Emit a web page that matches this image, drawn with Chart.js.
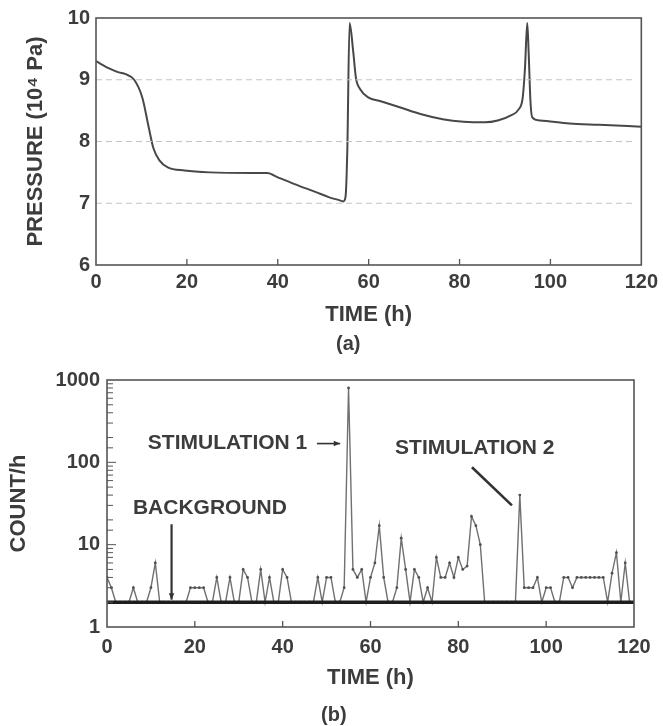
<!DOCTYPE html>
<html>
  <head>
    <meta charset="UTF-8" />
    <title>Pressure and count rate vs time</title>
    <style>
      body { margin: 0; background: #fff; width: 663px; height: 726px; position: relative; overflow: hidden; }
      #boxA { position: absolute; left: 0; top: 0; width: 663px; height: 335px; }
      #boxB { position: absolute; left: 0; top: 340px; width: 663px; height: 386px; }
      .cap { position: absolute; font: bold 20px "Liberation Sans", Arial, sans-serif; color: #3c3c3c; }
    </style>
  </head>
  <body>
    <div id="boxA"><canvas id="chartA"></canvas></div>
    <div id="boxB"><canvas id="chartB"></canvas></div>
    <div class="cap" style="left:336px; top:332px">(a)</div>
    <div class="cap" style="left:321px; top:703px">(b)</div>

    <script src="https://cdn.jsdelivr.net/npm/chart.js"></script>
    <script>
      // (a) pressure, 10^4 Pa
      const pressureTime = [0, 3, 5, 6.5, 8.4, 10.2, 11.6, 12.6, 14, 15.8, 19.5, 25, 34.4, 37.7, 40, 43.7, 48.4, 51.2,
        53.5, 54.4, 54.9, 55.3, 55.8, 56.6, 57.2, 58.1, 60, 62.3, 67, 71.6, 76.3, 80.9, 85.6, 88.4, 91.2, 93,
        93.9, 94.4, 94.9, 95.2, 95.6, 96, 97.7, 104.2, 110.7, 120];
      const pressure = [9.30, 9.18, 9.12, 9.09, 9.0, 8.71, 8.23, 7.9, 7.69, 7.58, 7.53, 7.5, 7.49, 7.49, 7.42, 7.31, 7.18, 7.1,
        7.05, 7.03, 7.1, 7.85, 9.92, 9.46, 9.03, 8.85, 8.71, 8.66, 8.55, 8.44, 8.36, 8.32, 8.31, 8.34, 8.42, 8.52,
        8.71, 9.19, 9.92, 9.46, 8.66, 8.39, 8.34, 8.29, 8.27, 8.24];
      const pressureTicks = [6, 7, 8, 9, 10];

      // (b) counts per hour
      const countTime = [0, 1, 2, 3, 4, 5, 6, 7, 8, 9, 10, 11, 12, 13, 14, 15, 16, 17, 18, 19,
        20, 21, 22, 23, 24, 25, 26, 27, 28, 29, 30, 31, 32, 33, 34, 35, 36, 37, 38, 39,
        40, 41, 42, 43, 44, 45, 46, 47, 48, 49, 50, 51, 52, 53, 54, 55, 56, 57, 58, 59,
        60, 61, 62, 63, 64, 65, 66, 67, 68, 69, 70, 71, 72, 73, 74, 75, 76, 77, 78, 79,
        80, 81, 82, 83, 84, 85, 86, 87, 88, 89, 90, 91, 92, 93, 94, 95, 96, 97, 98, 99,
        100, 101, 102, 103, 104, 105, 106, 107, 108, 109, 110, 111, 112, 113, 114, 115, 116, 117, 118, 119, 120];
      const counts = [4, 3, 2, 2, 2, 2, 3, 2, 2, 2, 3, 6, 2, 2, 2, 2, 2, 2, 2, 3,
        3, 3, 3, 2, 2, 4, 2, 2, 4, 2, 2, 5, 4, 2, 2, 5, 2, 4, 2, 2,
        5, 4, 2, 2, 2, 2, 2, 2, 4, 2, 4, 4, 2, 2, 3, 800, 5, 4, 5, 2,
        4, 6, 17, 4, 2, 2, 3, 12, 5, 2, 5, 4, 2, 3, 2, 7, 4, 4, 6, 4,
        7, 5, 5.5, 22, 17, 10, 2, 2, 2, 2, 2, 2, 2, 2, 40, 3, 3, 3, 4, 2,
        3, 3, 2, 2, 4, 4, 3, 4, 4, 4, 4, 4, 4, 4, 2, 4.5, 8, 2, 6, 2, 2];
      const backgroundTime = [0, 120];
      const backgroundLevel = [2, 2];
      const countLabels = [1, 10, 100, 1000];

      const notes = [
        { text: 'STIMULATION 1', t: 45.6, v: 169, align: 'right' },
        { text: 'BACKGROUND', t: 5.9, v: 27.8, align: 'left' },
        { text: 'STIMULATION 2', t: 65.6, v: 147, align: 'left' }
      ];
      const pointers = [
        { from: [47.8, 169], to: [53.1, 169], width: 1.6, head: true },
        { from: [14.7, 17.7], to: [14.7, 2.15], width: 2.2, head: true },
        { from: [83.1, 87], to: [92.2, 30], width: 2.6, head: false }
      ];

      const ink = '#3c3c3c';
      const fontTick = { family: "'Liberation Sans', Arial, sans-serif", size: 20, weight: 'bold' };
      const fontTitle = { family: "'Liberation Sans', Arial, sans-serif", size: 22, weight: 'bold' };

      const toXY = (xs, ys) => xs.map((x, i) => ({ x: x, y: ys[i] }));

      // box around the plot, inward ticks, dashed grid
      const frame = {
        id: 'frame',
        afterDatasetsDraw(chart, args, opts) {
          const { ctx, chartArea: a, scales } = chart;
          ctx.save();
          if (opts.grid) {
            ctx.strokeStyle = '#c4c4c4';
            ctx.lineWidth = 1;
            ctx.setLineDash([6, 4]);
            opts.grid.forEach(v => {
              const py = scales.y.getPixelForValue(v);
              ctx.beginPath();
              ctx.moveTo(a.left, py);
              ctx.lineTo(a.right - 8, py);
              ctx.stroke();
            });
            ctx.setLineDash([]);
          }
          ctx.strokeStyle = '#555';
          ctx.lineWidth = 1.6;
          ctx.strokeRect(a.left, a.top, a.width, a.height);
          ctx.lineWidth = 1.3;
          scales.x.ticks.forEach(t => {
            if (t.value <= scales.x.min || t.value >= scales.x.max) return;
            const px = scales.x.getPixelForValue(t.value);
            ctx.beginPath();
            ctx.moveTo(px, a.bottom);
            ctx.lineTo(px, a.bottom - 6);
            ctx.stroke();
          });
          if (opts.minorY) {
            ctx.lineWidth = 1;
            scales.y.ticks.forEach(t => {
              if (t.value <= scales.y.min || t.value >= scales.y.max) return;
              const py = scales.y.getPixelForValue(t.value);
              const len = countLabels.includes(t.value) ? 9 : 6;
              ctx.beginPath();
              ctx.moveTo(a.left, py);
              ctx.lineTo(a.left + len, py);
              ctx.stroke();
            });
          }
          ctx.restore();
        }
      };

      const callouts = {
        id: 'callouts',
        afterDatasetsDraw(chart) {
          const { ctx, scales } = chart;
          const X = t => scales.x.getPixelForValue(t);
          const Y = v => scales.y.getPixelForValue(v);
          ctx.save();
          ctx.fillStyle = ink;
          ctx.font = "bold 21px 'Liberation Sans', Arial, sans-serif";
          ctx.textBaseline = 'middle';
          notes.forEach(n => {
            ctx.textAlign = n.align;
            ctx.fillText(n.text, X(n.t), Y(n.v));
          });
          ctx.strokeStyle = '#333';
          pointers.forEach(p => {
            const x1 = X(p.from[0]), y1 = Y(p.from[1]);
            const x2 = X(p.to[0]), y2 = Y(p.to[1]);
            ctx.lineWidth = p.width;
            ctx.beginPath();
            ctx.moveTo(x1, y1);
            ctx.lineTo(x2, y2);
            ctx.stroke();
            if (p.head) {
              const ang = Math.atan2(y2 - y1, x2 - x1);
              ctx.beginPath();
              ctx.moveTo(x2, y2);
              ctx.lineTo(x2 - 7 * Math.cos(ang - 0.4), y2 - 7 * Math.sin(ang - 0.4));
              ctx.lineTo(x2 - 7 * Math.cos(ang + 0.4), y2 - 7 * Math.sin(ang + 0.4));
              ctx.closePath();
              ctx.fillStyle = '#333';
              ctx.fill();
            }
          });
          ctx.restore();
        }
      };

      new Chart(document.getElementById('chartA'), {
        type: 'line',
        data: {
          datasets: [{
            data: toXY(pressureTime, pressure),
            borderColor: '#484848',
            borderWidth: 2,
            pointRadius: 0,
            cubicInterpolationMode: 'monotone'
          }]
        },
        options: {
          responsive: true,
          maintainAspectRatio: false,
          animation: false,
          layout: { padding: { top: 18, right: 21, left: 0, bottom: 0 } },
          plugins: {
            legend: { display: false },
            tooltip: { enabled: false },
            frame: { grid: [7, 8, 9] }
          },
          scales: {
            x: {
              type: 'linear', min: 0, max: 120,
              ticks: { stepSize: 20, padding: 5, color: ink, font: fontTick, maxRotation: 0 },
              grid: { display: false, drawTicks: false },
              border: { display: false },
              title: { display: true, text: 'TIME (h)', color: ink, font: fontTitle, padding: { top: 0, bottom: 7 } },
              afterFit(s) { s.height = 70; }
            },
            y: {
              min: 6, max: 10,
              afterBuildTicks(s) { s.ticks = pressureTicks.map(v => ({ value: v })); },
              ticks: { padding: 6, color: ink, font: fontTick },
              grid: { display: false, drawTicks: false },
              border: { display: false },
              title: { display: true, text: 'PRESSURE (10⁴ Pa)', color: ink, font: fontTitle, padding: { top: 23, bottom: 0 } },
              afterFit(s) { s.width = 96; }
            }
          }
        },
        plugins: [frame]
      });

      new Chart(document.getElementById('chartB'), {
        type: 'line',
        data: {
          datasets: [{
            data: toXY(backgroundTime, backgroundLevel),
            borderColor: '#1e1e1e',
            borderWidth: 3.5,
            pointRadius: 0
          }, {
            data: toXY(countTime, counts),
            borderColor: '#707070',
            borderWidth: 1.4,
            pointRadius: 1.4,
            pointBackgroundColor: '#505050',
            pointBorderWidth: 0,
            tension: 0
          }]
        },
        options: {
          responsive: true,
          maintainAspectRatio: false,
          animation: false,
          layout: { padding: { top: 40, right: 29, left: 0, bottom: 0 } },
          plugins: {
            legend: { display: false },
            tooltip: { enabled: false },
            frame: { minorY: true }
          },
          scales: {
            x: {
              type: 'linear', min: 0, max: 120,
              ticks: { stepSize: 20, padding: 8, color: ink, font: fontTick, maxRotation: 0 },
              grid: { display: false, drawTicks: false },
              border: { display: false },
              title: { display: true, text: 'TIME (h)', color: ink, font: fontTitle, padding: { top: 0, bottom: 35 } },
              afterFit(s) { s.height = 99; }
            },
            y: {
              type: 'logarithmic', min: 1, max: 1000,
              ticks: {
                padding: 7, color: ink, font: fontTick, autoSkip: false,
                callback: v => countLabels.includes(v) ? String(v) : ''
              },
              grid: { display: false, drawTicks: false },
              border: { display: false },
              title: { display: true, text: 'COUNT/h', color: ink, font: fontTitle, padding: { top: 6, bottom: 0 } },
              afterFit(s) { s.width = 107; }
            }
          }
        },
        plugins: [frame, callouts]
      });
    </script>
  </body>
</html>
